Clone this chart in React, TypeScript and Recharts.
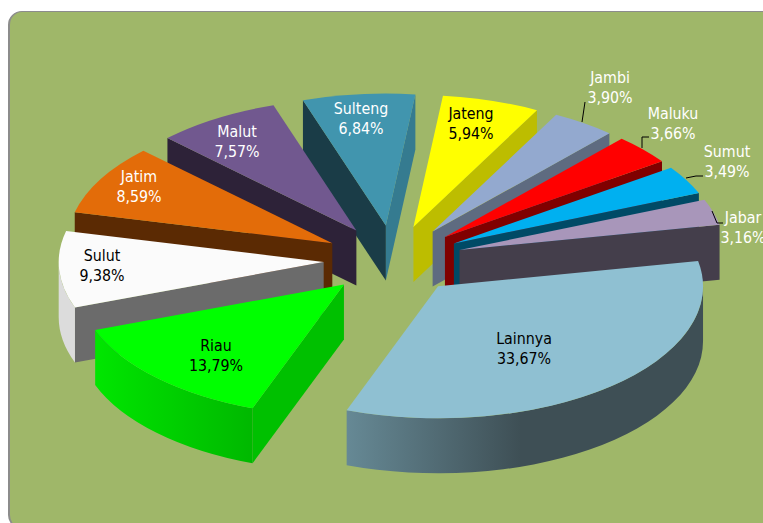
import { PieChart, Pie } from "recharts";

const regions = ["Jateng", "Jambi", "Maluku", "Sumut", "Jabar", "Lainnya", "Riau", "Sulut", "Jatim", "Malut", "Sulteng"];
const shares = [5.94, 3.9, 3.66, 3.49, 3.16, 33.67, 13.79, 9.38, 8.59, 7.57, 6.84];

const topColors = ["#FFFF00", "#93A9CF", "#FF0000", "#00B0F0", "#A896BA", "#8FC0D2", "#00FF00", "#FBFBFB", "#E36C09", "#71588F", "#4195AE"];
// wall seen along the slice's clockwise edge, then along its counter-clockwise edge
const cwWalls = ["#BDBD00", "#5E6B80", "#800000", "#004A66", "#443E4B", "#3E4F55", "#00C000", "#6B6B6B", "#5B2A03", "#2D2238", "#357B90"];
const ccwWalls = ["#BDBD00", "#5E6B80", "#800000", "#004A66", "#443E4B", "#668995", "#00C000", "#6B6B6B", "#5B2A03", "#2D2238", "#1A3C47"];
const rimLeft = ["#BDBD00", "#5E6B80", "#800000", "#004A66", "#443E4B", "#668995", "#00E600", "#DCDCDC", "#5B2A03", "#2D2238", "#357B90"];
const rimRight = ["#BDBD00", "#5E6B80", "#800000", "#004A66", "#443E4B", "#3E4F55", "#00B800", "#DCDCDC", "#5B2A03", "#2D2238", "#357B90"];
const darkText = ["Jateng", "Lainnya", "Riau", "Sulut"];

// label centres and leader lines, in chart pixels
const labelCentres: Record<string, [number, number]> = {
  Jateng: [471, 123],
  Jambi: [610, 87],
  Maluku: [673, 123],
  Sumut: [727, 161],
  Jabar: [743, 227],
  Lainnya: [524, 348],
  Riau: [216, 355],
  Sulut: [102, 265],
  Jatim: [139, 186],
  Malut: [237, 141],
  Sulteng: [361, 118],
};
const leaders: Record<string, string> = {
  Jambi: "582,122 585,102",
  Maluku: "642,148 642,137 649,137",
  Sumut: "686,178 696,176 703,176",
  Jabar: "712,211 717,223 723,223",
};

const CX = 393;
const CY = 260;
const RX = 265;
const RY = 132;
const DEPTH = 55;
const EXPLODE = 0.262;
const FIRST_SLICE = 83.6; // polar angle where Jateng starts

const table = regions.map((name, i) => ({ name, value: shares[i], index: i, fill: topColors[i] }));
const splitAt = regions.indexOf("Riau");
const total = shares.reduce((a, b) => a + b, 0);
const rightSlices = table.slice(0, splitAt);
// the left half is walked counter-clockwise so front slices paint last
const leftSlices = table.slice(splitAt).reverse();
const rightSpan = (rightSlices.reduce((a, d) => a + d.value, 0) / total) * 360;
const leftSpan = 360 - rightSpan;

const toRad = (deg: number) => (deg * Math.PI) / 180;

function Wedge3D(props: any) {
  const { startAngle, endAngle, name } = props;
  const i = regions.indexOf(name);
  // clockwise-from-north angles
  const a1 = 90 - Math.max(startAngle, endAngle);
  const a2 = 90 - Math.min(startAngle, endAngle);
  const mid = toRad((a1 + a2) / 2);
  const ax = CX + EXPLODE * RX * Math.sin(mid);
  const ay = CY - EXPLODE * RY * Math.cos(mid);
  const rim = (deg: number) => {
    const r = toRad(deg);
    return [ax + RX * Math.sin(r), ay - RY * Math.cos(r)];
  };
  const [x1, y1] = rim(a1);
  const [x2, y2] = rim(a2);
  const large = a2 - a1 > 180 ? 1 : 0;

  const wallPath = (x: number, y: number) =>
    `M${ax},${ay} L${x},${y} L${x},${y + DEPTH} L${ax},${ay + DEPTH} Z`;

  // a radial wall shows when its outward side faces down the screen
  const showCcwWall = x1 < ax;
  const showCwWall = x2 > ax;

  // only the front half of the rim is visible
  const n1 = ((a1 % 360) + 360) % 360;
  const n2 = n1 + (a2 - a1);
  const from = Math.max(n1, 90);
  const to = Math.min(n2, 270);
  const hasRim = to > from;
  const gradId = `rim-${i}`;

  let rimPath = "";
  if (hasRim) {
    const [fx, fy] = rim(from);
    const [tx, ty] = rim(to);
    rimPath = `M${fx},${fy} A${RX},${RY} 0 0 1 ${tx},${ty} L${tx},${ty + DEPTH} A${RX},${RY} 0 0 0 ${fx},${fy + DEPTH} Z`;
  }

  return (
    <g>
      <defs>
        <linearGradient id={gradId} x1="0" y1="0" x2="1" y2="0">
          <stop offset="0" stopColor={rimLeft[i]} />
          <stop offset={name === "Lainnya" ? "0.49" : "1"} stopColor={rimRight[i]} />
        </linearGradient>
      </defs>
      {showCcwWall && <path d={wallPath(x1, y1)} fill={ccwWalls[i]} />}
      {showCwWall && <path d={wallPath(x2, y2)} fill={cwWalls[i]} />}
      {hasRim && <path d={rimPath} fill={`url(#${gradId})`} />}
      <path d={`M${ax},${ay} L${x1},${y1} A${RX},${RY} 0 ${large} 1 ${x2},${y2} Z`} fill={topColors[i]} />
    </g>
  );
}

function SliceLabel(props: any) {
  const { name, value } = props;
  const [x, y] = labelCentres[name];
  const color = darkText.includes(name) ? "#000000" : "#FFFFFF";
  return (
    <g>
      {leaders[name] && <polyline points={leaders[name]} fill="none" stroke="#000000" strokeWidth={1} />}
      <text x={x} y={y} textAnchor="middle" fill={color} fontSize={15.8} fontFamily="'DejaVu Sans Condensed', 'DejaVu Sans', sans-serif">
        <tspan x={x} dy={-4}>{name}</tspan>
        <tspan x={x} dy={19.5}>{value.toFixed(2).replace(".", ",")}%</tspan>
      </text>
    </g>
  );
}

export default function App() {
  return (
    <div style={{ position: "absolute", left: 0, top: 0, width: 763, height: 523, overflow: "hidden", background: "#FFFFFF" }}>
      <div
        style={{
          position: "absolute",
          left: 8,
          top: 11,
          width: 800,
          height: 518,
          boxSizing: "border-box",
          background: "#9FB769",
          border: "1px solid #8C8C8C",
          borderLeft: "2px solid #8C8C8C",
          borderRadius: 14,
        }}
      />
      <PieChart width={763} height={523} style={{ position: "absolute", left: 0, top: 0 }} margin={{ top: 0, right: 0, bottom: 0, left: 0 }}>
        <Pie
          data={rightSlices}
          dataKey="value"
          nameKey="name"
          cx={CX}
          cy={CY}
          outerRadius={RX}
          startAngle={FIRST_SLICE}
          endAngle={FIRST_SLICE - rightSpan}
          stroke="none"
          shape={Wedge3D}
          label={SliceLabel}
          labelLine={false}
          isAnimationActive={false}
        />
        <Pie
          data={leftSlices}
          dataKey="value"
          nameKey="name"
          cx={CX}
          cy={CY}
          outerRadius={RX}
          startAngle={FIRST_SLICE}
          endAngle={FIRST_SLICE + leftSpan}
          stroke="none"
          shape={Wedge3D}
          label={SliceLabel}
          labelLine={false}
          isAnimationActive={false}
        />
      </PieChart>
    </div>
  );
}
